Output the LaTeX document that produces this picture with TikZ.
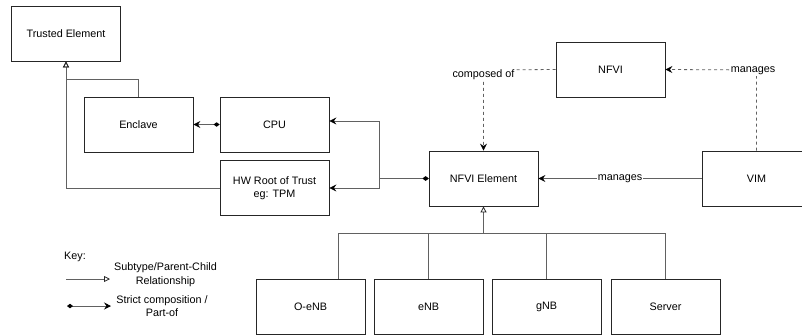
\documentclass[tikz,border=0pt]{standalone}
\usepackage{fontspec}
\setmainfont{Liberation Sans}
\usetikzlibrary{arrows.meta}
\newcommand\mainfs{\fontsize{10.8}{13.5}\selectfont}
\begin{document}
\begin{tikzpicture}[x=1pt,y=-1pt,
  box/.style={draw=black!85, line width=0.8pt, minimum width=109pt, minimum height=55pt, inner sep=0pt, align=center, font=\mainfs, text=black},
  conn/.style={draw=black!62, line width=0.8pt},
  dconn/.style={conn, dash pattern=on 3pt off 3pt, -{Stealth[length=7pt,width=7pt,inset=2.5pt,color=black]}},
  comp/.style={conn, {Diamond[length=6pt,width=4.5pt,color=black]}-{Stealth[length=7pt,width=7pt,inset=2.5pt,color=black]}},
  sub/.style={conn, -{Triangle[open,length=6pt,width=6pt,color=black!85]}},
  lbl/.style={fill=white, inner sep=1pt, font=\mainfs, text=black},
  txt/.style={font=\mainfs, text=black, align=center, inner sep=0pt}]
\useasboundingbox (0,0) rectangle (802,335);

% boxes
\node[box] (te) at (66,33.5) {Trusted Element};
\node[box] (encl) at (138.5,124.5) {Enclave};
\node[box] (cpu) at (274.5,124.5) {CPU};
\node[box] (hw) at (274.5,188) {HW Root of Trust\\eg: TPM};
\node[box] (nfvie) at (483.5,178.5) {NFVI Element};
\node[box] (nfvi) at (610.5,69.5) {NFVI};
\node[box] (vim) at (756.5,178.5) {VIM};
\node[box] (oenb) at (310.5,306.5) {O-eNB};
\node[box] (enb) at (428.5,306.5) {eNB};
\node[box] (gnb) at (546.5,306.5) {gNB};
\node[box] (server) at (665.5,306.5) {Server};

% subtype connectors to Trusted Element
\coordinate (j1) at (66,79);
\draw[sub] (encl.north) |- (j1) -- (te.south);
\draw[sub] (hw.west) -| (te.south);

% composition
\draw[comp] (cpu.west) -- (encl.east);
\coordinate (j2) at (379,178.5);
\draw[comp] (nfvie.west) -- (j2) |- ([yshift=3.5pt]cpu.east);
\draw[comp] (nfvie.west) -- (j2) |- (hw.east);

% dashed
\coordinate (c1) at (483.5,70);
\draw[dconn] (nfvi.west) -- (c1) -- (nfvie.north);
\node[lbl] (lc1) at (483.5,75) {composed of};
\coordinate (c2) at (756.5,70);
\draw[dconn] (vim.north) -- (c2) -- (nfvi.east);
\node[lbl] (lc2) at (753,71) {manages};

% manages
\draw[conn, -{Stealth[length=7pt,width=7pt,inset=2.5pt,color=black]}] (vim.west) -- node[lbl] (lm) {manages} (nfvie.east);

% subtype tree
\coordinate (bus) at (483.5,233);
\draw[conn] ([xshift=28pt]oenb.north) |- (bus);
\draw[conn] (server.north) |- (bus);
\draw[conn] (enb.north) -- (enb.north |- bus);
\draw[conn] (gnb.north) -- (gnb.north |- bus);
\draw[sub] (bus) -- (nfvie.south);

% key
\node[txt, anchor=west] (key) at (64,257) {Key:};
\coordinate (k1a) at (66,279);
\coordinate (k1b) at (110,279);
\draw[sub] (k1a) -- (k1b);
\node[txt] (k1t) at (165.5,274.5) {Subtype/Parent-Child\\Relationship};
\coordinate (k2a) at (67,306);
\coordinate (k2b) at (111,306);
\draw[comp] (k2a) -- (k2b);
\node[txt] (k2t) at (162,306) {Strict composition /\\Part-of};
\end{tikzpicture}
\end{document}
